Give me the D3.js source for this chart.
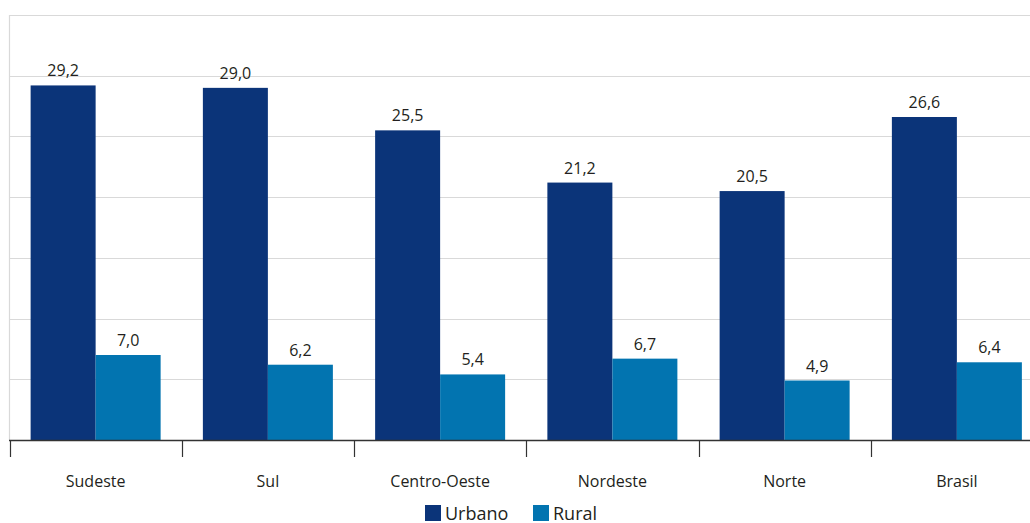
<!DOCTYPE html>
<html>
<head>
<meta charset="utf-8">
<script src="https://cdn.jsdelivr.net/npm/d3@7"></script>
<style>
  html, body { margin: 0; padding: 0; background: #fff; }
  svg { display: block; font-family: "Open Sans", "Noto Sans", sans-serif; }
</style>
</head>
<body>
<svg id="chart" width="1030" height="523"></svg>
<script>
// Regions and the two series (urban / rural)
const categories = ["Sudeste", "Sul", "Centro-Oeste", "Nordeste", "Norte", "Brasil"];
const seriesNames = ["Urbano", "Rural"];
const urbano = [29.2, 29.0, 25.5, 21.2, 20.5, 26.6];
const rural = [7.0, 6.2, 5.4, 6.7, 4.9, 6.4];
const yTicks = [0, 5, 10, 15, 20, 25, 30, 35];
const colors = ["#0b3479", "#0274b0"];

const svg = d3.select("#chart");
const plotLeft = 9.5, plotRight = 1043, plotTop = 15, plotBottom = 440;

const x = d3.scaleBand().domain(categories).range([plotLeft, plotRight]).paddingInner(0).paddingOuter(0);
const xs = d3.scaleBand().domain(seriesNames).range([0, x.bandwidth()]).paddingOuter(0.325).paddingInner(0);
const y = d3.scaleLinear().domain([0, 35]).range([plotBottom, plotTop]);

const fmt = v => d3.format(".1f")(v).replace(".", ",");

// Horizontal gridlines
svg.append("g")
  .selectAll("line")
  .data(yTicks.filter(t => t > 0))
  .join("line")
  .attr("x1", plotLeft).attr("x2", 1030)
  .attr("y1", d => Math.round(y(d)) + 0.5).attr("y2", d => Math.round(y(d)) + 0.5)
  .attr("stroke", "#d9d9d9").attr("stroke-width", 1.2);

// Left frame line
svg.append("line")
  .attr("x1", plotLeft).attr("x2", plotLeft)
  .attr("y1", y(35)).attr("y2", plotBottom)
  .attr("stroke", "#d9d9d9").attr("stroke-width", 1.2);

const data = categories.map((c, i) => ({ cat: c, vals: [urbano[i], rural[i]] }));

const groups = svg.append("g").selectAll("g")
  .data(data)
  .join("g")
  .attr("transform", d => `translate(${x(d.cat)},0)`);

groups.selectAll("rect")
  .data(d => d.vals.map((v, j) => ({ v, s: seriesNames[j], j })))
  .join("rect")
  .attr("x", d => xs(d.s))
  .attr("width", xs.bandwidth())
  .attr("y", d => y(d.v))
  .attr("height", d => plotBottom - y(d.v))
  .attr("fill", d => colors[d.j]);

groups.selectAll("text.val")
  .data(d => d.vals.map((v, j) => ({ v, s: seriesNames[j] })))
  .join("text")
  .attr("class", "val")
  .attr("x", d => xs(d.s) + xs.bandwidth() / 2)
  .attr("y", d => y(d.v) - 9)
  .attr("text-anchor", "middle")
  .attr("font-size", 16)
  .attr("fill", "#231f20")
  .text(d => fmt(d.v));

// Category axis with boundary ticks
const axisG = svg.append("g");
axisG.append("line")
  .attr("x1", plotLeft - 0.5).attr("x2", 1030)
  .attr("y1", plotBottom + 0.5).attr("y2", plotBottom + 0.5)
  .attr("stroke", "#333").attr("stroke-width", 1.5);
axisG.selectAll("line.tick")
  .data(categories)
  .join("line")
  .attr("class", "tick")
  .attr("x1", d => Math.round(x(d)) + 0.5).attr("x2", d => Math.round(x(d)) + 0.5)
  .attr("y1", plotBottom).attr("y2", plotBottom + 17)
  .attr("stroke", "#333").attr("stroke-width", 1.2);
axisG.selectAll("text")
  .data(categories)
  .join("text")
  .attr("x", d => x(d) + x.bandwidth() / 2)
  .attr("y", 487)
  .attr("text-anchor", "middle")
  .attr("font-size", 16)
  .attr("fill", "#231f20")
  .text(d => d);

// Legend
const legendX = [425, 533];
const legend = svg.append("g").selectAll("g")
  .data(seriesNames)
  .join("g")
  .attr("transform", (d, i) => `translate(${legendX[i]},505)`);
legend.append("rect").attr("width", 16).attr("height", 16).attr("fill", (d, i) => colors[i]);
legend.append("text")
  .attr("x", 20).attr("y", 14.5)
  .attr("font-size", 18)
  .attr("fill", "#231f20")
  .text(d => d);
</script>
</body>
</html>
